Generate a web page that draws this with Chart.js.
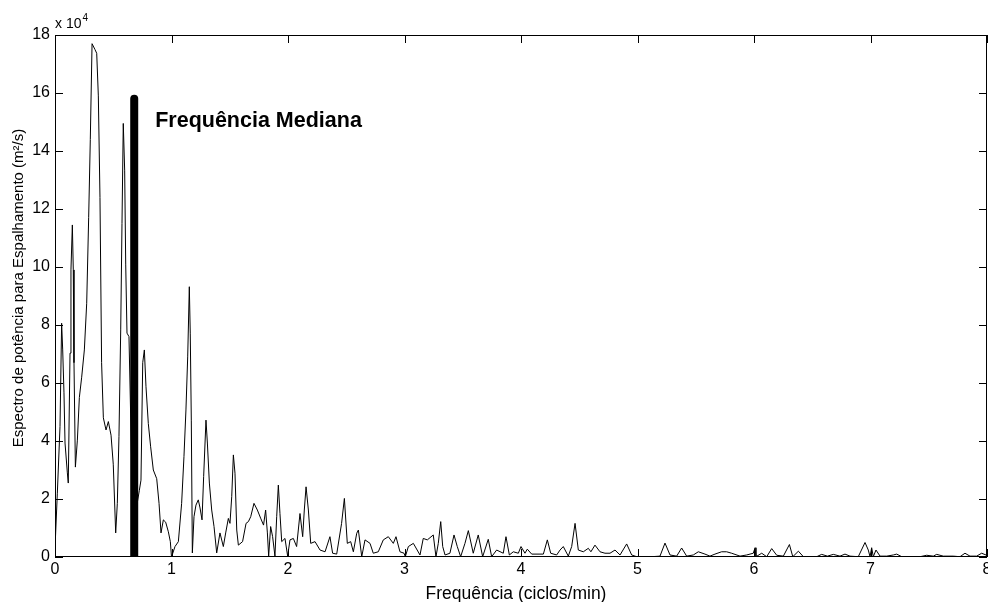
<!DOCTYPE html>
<html>
<head>
<meta charset="utf-8">
<script src="https://cdn.jsdelivr.net/npm/chart.js@4.4.1/dist/chart.umd.min.js"></script>
<style>
  html, body { margin: 0; padding: 0; background: #fff; }
  #grafico { display: block; }
</style>
</head>
<body>
<canvas id="grafico" width="988" height="602"></canvas>
<script>
// Frequências (ciclos/min)
const freq = [
  0, 0.02, 0.043, 0.057, 0.066, 0.077, 0.086, 0.106, 0.114, 0.129, 0.137, 0.149, 0.157, 0.163, 0.175,
  0.192, 0.209, 0.229, 0.252, 0.272, 0.289, 0.303, 0.318, 0.343, 0.358, 0.372, 0.386, 0.4, 0.415, 0.438,
  0.458, 0.481, 0.5, 0.521, 0.535, 0.549, 0.564, 0.575, 0.586, 0.598, 0.607, 0.618, 0.635, 0.67, 0.724,
  0.738, 0.753, 0.767, 0.781, 0.801, 0.821, 0.844, 0.873, 0.893, 0.91, 0.93, 0.95, 0.973, 0.99,
  1.0, 1.03, 1.059, 1.087, 1.107, 1.124, 1.139, 1.153, 1.161, 1.17, 1.179, 1.193, 1.21, 1.23, 1.245,
  1.262, 1.276, 1.296, 1.308, 1.325, 1.345, 1.365, 1.388, 1.416, 1.445, 1.465, 1.488, 1.502, 1.517, 1.531,
  1.545, 1.56, 1.574, 1.61, 1.64, 1.66, 1.68, 1.708, 1.737, 1.765, 1.79, 1.808, 1.823, 1.834, 1.851,
  1.868, 1.888, 1.903, 1.917, 1.931, 1.946, 1.974, 1.997, 2.017, 2.046, 2.074, 2.103, 2.126, 2.14, 2.155,
  2.175, 2.195, 2.232, 2.275, 2.318, 2.36, 2.383, 2.418, 2.46, 2.484, 2.509, 2.538, 2.561, 2.59, 2.604,
  2.633, 2.661, 2.704, 2.732, 2.775, 2.818, 2.861, 2.904, 2.927, 2.961, 2.996, 3.007, 3.033, 3.076, 3.133,
  3.161, 3.196, 3.247, 3.27, 3.29, 3.311, 3.328, 3.348, 3.39, 3.425, 3.453, 3.482, 3.519, 3.548, 3.59,
  3.633, 3.671, 3.719, 3.748, 3.791, 3.848, 3.871, 3.9, 3.934, 3.977, 4.0, 4.034, 4.054, 4.092, 4.163,
  4.192, 4.226, 4.255, 4.306, 4.335, 4.363, 4.406, 4.435, 4.464, 4.492, 4.535, 4.578, 4.6, 4.635, 4.678,
  4.721, 4.764, 4.807, 4.85, 4.907, 4.95, 4.993, 5.08, 5.193, 5.236, 5.279, 5.336, 5.379, 5.422, 5.479,
  5.522, 5.579, 5.622, 5.665, 5.722, 5.765, 5.808, 5.88, 5.937, 5.994, 6.009, 6.017, 6.066, 6.109, 6.152,
  6.195, 6.252, 6.304, 6.333, 6.381, 6.424, 6.538, 6.581, 6.63, 6.681, 6.738, 6.781, 6.824, 6.895, 6.953,
  6.981, 6.996, 7.01, 7.024, 7.047, 7.082, 7.139, 7.196, 7.225, 7.268, 7.425, 7.482, 7.539, 7.568, 7.625,
  7.711, 7.768, 7.811, 7.854, 7.911, 7.954, 7.997
];

// Espectro de potência (x 10^4 m²/s)
const potencia = [
  0.3, 2.2, 4.5, 8.06, 7.14, 5.66, 3.93, 2.9, 2.55, 7.03, 9.9, 11.45, 9.9, 6.7, 3.1,
  4.03, 5.5, 6.2, 7.14, 8.75, 11.7, 14.4, 17.7, 17.5, 17.37, 15.9, 12.4, 6.7, 4.8, 4.38,
  4.67, 4.2, 3.2, 0.83, 1.85, 4.15, 7.83, 11.5, 14.95, 13.34, 10.1, 7.72, 7.6, 1.0, 2.3,
  2.65, 6.7, 7.14, 5.87, 4.6, 3.8, 3.0, 2.7, 1.85, 0.83, 1.28, 1.2, 0.87, 0.53,
  0.0, 0.36, 0.53, 1.85, 3.46, 5.07, 6.9, 9.32, 7.72, 4.72, 0.14, 1.39, 1.79, 1.97, 1.69,
  1.28, 2.77, 4.72, 3.93, 2.55, 1.62, 1.05, 0.14, 0.83, 0.36, 0.83, 1.33, 1.16, 2.08, 3.52,
  2.89, 0.93, 0.41, 0.53, 1.16, 1.22, 1.39, 1.85, 1.62, 1.34, 1.1, 1.62, 0.83, 0.03, 1.05,
  0.7, 0.03, 1.39, 2.48, 1.5, 0.53, 0.64, 0.03, 0.59, 0.64, 0.36, 1.5, 0.7, 1.62, 2.42,
  1.62, 0.47, 0.53, 0.24, 0.18, 0.7, 0.13, 0.1, 1.16, 2.02, 0.47, 0.53, 0.18, 0.82, 0.93,
  0.01, 0.59, 0.47, 0.13, 0.18, 0.59, 0.7, 0.47, 0.7, 0.18, 0.13, 0.01, 0.36, 0.47, 0.07,
  0.64, 0.59, 0.76, 0.01, 0.47, 1.22, 0.36, 0.07, 0.13, 0.76, 0.36, 0.01, 0.47, 0.91, 0.13,
  0.76, 0.01, 0.61, 0.01, 0.24, 0.13, 0.7, 0.07, 0.18, 0.13, 0.36, 0.13, 0.27, 0.1, 0.1,
  0.1, 0.59, 0.13, 0.07, 0.24, 0.36, 0.03, 0.36, 1.16, 0.24, 0.18, 0.3, 0.18, 0.41, 0.18,
  0.13, 0.13, 0.24, 0.07, 0.45, 0.07, 0.01, 0.0, 0.03, 0.48, 0.07, 0.03, 0.31, 0.03, 0.07,
  0.18, 0.1, 0.03, 0.1, 0.18, 0.18, 0.13, 0.03, 0.07, 0.13, 0.32, 0.01, 0.13, 0.01, 0.29,
  0.06, 0.03, 0.43, 0.01, 0.2, 0.01, 0.01, 0.09, 0.03, 0.09, 0.03, 0.1, 0.03, 0.01, 0.5,
  0.24, 0.01, 0.32, 0.01, 0.24, 0.03, 0.03, 0.07, 0.1, 0.01, 0.01, 0.06, 0.03, 0.09, 0.03,
  0.03, 0.01, 0.13, 0.03, 0.03, 0.13, 0.06
];

// Frequência mediana (linha grossa vertical)
const freqMediana = 0.68;
const topoMediana = 15.8;
const textoMediana = 'Frequência Mediana';

const ticksX = [0, 1, 2, 3, 4, 5, 6, 7, 8];
const ticksY = [0, 2, 4, 6, 8, 10, 12, 14, 16, 18];

const tituloX = 'Frequência (ciclos/min)';
const tituloY = 'Espectro de potência para Espalhamento (m²/s)';

const fonte = "'Liberation Sans', Arial, sans-serif";

// Caixa estilo MATLAB com marcas de escala para dentro + textos
const caixaPlugin = {
  id: 'caixa',
  afterDraw(chart) {
    const ctx = chart.ctx;
    const a = chart.chartArea;
    const sx = chart.scales.x, sy = chart.scales.y;
    const L = 8;
    ctx.save();
    ctx.strokeStyle = '#000';
    ctx.lineWidth = 1;
    ctx.strokeRect(Math.round(a.left) + 0.5, Math.round(a.top) + 0.5,
      Math.round(a.right - a.left) - 1, Math.round(a.bottom - a.top) - 1);
    ctx.beginPath();
    ticksX.forEach(v => {
      const p = Math.round(sx.getPixelForValue(v)) + 0.5;
      ctx.moveTo(p, a.bottom); ctx.lineTo(p, a.bottom - L);
      ctx.moveTo(p, a.top); ctx.lineTo(p, a.top + L);
    });
    ticksY.forEach(v => {
      const p = Math.round(sy.getPixelForValue(v)) + 0.5;
      ctx.moveTo(a.left, p); ctx.lineTo(a.left + L, p);
      ctx.moveTo(a.right, p); ctx.lineTo(a.right - L, p);
    });
    ctx.stroke();

    ctx.fillStyle = '#000';
    ctx.textBaseline = 'alphabetic';

    // multiplicador do eixo y
    ctx.textAlign = 'left';
    ctx.font = "14px " + fonte;
    ctx.fillText('x 10', a.left, a.top - 7);
    const w = ctx.measureText('x 10').width;
    ctx.font = "10px " + fonte;
    ctx.fillText('4', a.left + w + 1, a.top - 14);

    // rótulo da mediana
    ctx.font = "bold 21.5px " + fonte;
    ctx.fillText(textoMediana, sx.getPixelForValue(0.86), sy.getPixelForValue(14.83));

    // títulos dos eixos
    ctx.textAlign = 'center';
    ctx.font = "17.5px " + fonte;
    ctx.fillText(tituloX, (a.left + a.right) / 2 - 5, 599);

    ctx.translate(23, (a.top + a.bottom) / 2 - 8);
    ctx.rotate(-Math.PI / 2);
    ctx.font = "15px " + fonte;
    ctx.fillText(tituloY, 0, 0);
    ctx.restore();
  }
};

new Chart(document.getElementById('grafico'), {
  type: 'line',
  data: {
    datasets: [
      {
        label: 'Espectro',
        data: freq.map((f, i) => ({ x: f, y: potencia[i] })),
        borderColor: '#000',
        borderWidth: 1,
        pointRadius: 0,
        tension: 0,
        fill: false
      },
      {
        label: 'Mediana',
        data: [{ x: freqMediana, y: 0 }, { x: freqMediana, y: topoMediana }],
        borderColor: '#000',
        borderWidth: 8,
        borderCapStyle: 'round',
        pointRadius: 0,
        clip: 0
      }
    ]
  },
  options: {
    responsive: false,
    animation: false,
    layout: { padding: { top: 35, right: 1, left: 0, bottom: 0 } },
    plugins: {
      legend: { display: false },
      tooltip: { enabled: false }
    },
    scales: {
      x: {
        type: 'linear',
        min: 0,
        max: 8,
        afterFit: s => { s.height = 45; s.paddingLeft = 0; s.paddingRight = 0; },
        afterBuildTicks: s => { s.ticks = ticksX.map(v => ({ value: v })); },
        grid: { display: false, drawTicks: false },
        border: { display: false },
        ticks: {
          color: '#000',
          padding: 3,
          maxRotation: 0,
          font: { family: fonte, size: 16 }
        }
      },
      y: {
        min: 0,
        max: 18,
        afterFit: s => { s.width = 55; s.paddingTop = 0; s.paddingBottom = 0; },
        afterBuildTicks: s => { s.ticks = ticksY.map(v => ({ value: v })); },
        grid: { display: false, drawTicks: false },
        border: { display: false },
        ticks: {
          color: '#000',
          padding: 5,
          font: { family: fonte, size: 16 }
        }
      }
    }
  },
  plugins: [caixaPlugin]
});
</script>
</body>
</html>
